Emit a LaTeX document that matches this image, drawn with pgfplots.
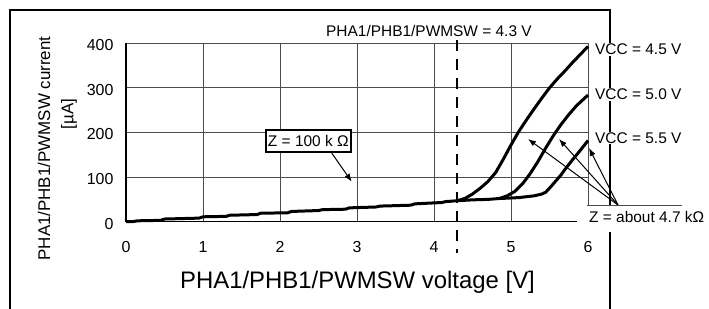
\documentclass[border=0pt]{standalone}
\usepackage{pgfplots}
\pgfplotsset{compat=1.18}
\usepackage{fontspec}
\setmainfont{Liberation Sans}
\usetikzlibrary{arrows.meta}
\newcommand{\fs}{\fontsize{15.5}{18}\selectfont}
\begin{document}
\begin{tikzpicture}
\useasboundingbox (0,0) rectangle (709bp,309bp);
\begin{scope}[shift={(0,309bp)},x=1bp,y=-1bp]
\draw[line width=1.2bp] (10,309) -- (10,10) -- (610,10) -- (610,309);
\end{scope}
\begin{axis}[at={(126bp,87.3bp)}, anchor=south west, scale only axis,
  width=462bp, height=178.4bp, xmin=0, xmax=6, ymin=0, ymax=400,
  xtick={0,1,...,6}, ytick={0,100,...,400},
  grid=major, major grid style={black!70, line width=0.8bp},
  axis x line=bottom, axis y line=left,
  axis line style={-, line width=1.3bp},
  major tick length=0,
  tick label style={font=\fontsize{16}{19}\selectfont},
  /pgf/number format/assume math mode=true,
  xticklabel style={yshift=-16bp}, yticklabel style={xshift=-9bp, yshift=-2bp},
  clip=false]
% common low-current branch
\addplot[black, line width=3bp, line join=round] coordinates {
(0,0) (0.1,0.5) (0.15,2) (0.45,3) (0.5,6) (0.95,8) (1.0,11) (1.3,12) (1.35,14.5)
(1.7,16) (1.75,19) (2.1,20) (2.15,23) (2.5,25) (2.55,27) (2.85,28) (2.9,31)
(3.25,33) (3.3,35) (3.7,37) (3.75,40) (4.1,43) (4.15,45) (4.3,47)};
% VCC = 4.5 V
\addplot[black, line width=3bp, line join=round] coordinates {
(4.3,47) (4.4,52) (4.5,62) (4.6,75) (4.7,90) (4.8,110) (4.9,140) (5.0,172)
(5.1,202) (5.2,228) (5.3,253) (5.4,277) (5.5,300) (5.6,320) (5.7,338)
(5.8,357) (5.9,375) (6.0,393)};
% shared branch for 5.0 / 5.5
\addplot[black, line width=3bp, line join=round] coordinates {
(4.3,47) (4.5,49) (4.7,50) (4.85,52) (5.1,54) (5.3,58) (5.4,62)};
% VCC = 5.0 V
\addplot[black, line width=3bp, line join=round] coordinates {
(4.85,52) (4.95,58) (5.05,68) (5.15,85) (5.25,108) (5.35,135) (5.45,165)
(5.55,193) (5.65,218) (5.75,240) (5.85,260) (5.95,276) (6.0,284)};
% VCC = 5.5 V
\addplot[black, line width=3bp, line join=round] coordinates {
(5.4,62) (5.45,66) (5.5,75) (5.55,85) (5.6,95) (5.65,105) (5.7,117)
(5.8,139) (5.9,160) (6.0,182)};
% 4.3 V marker
\addplot[black, line width=2.6bp, dash pattern=on 11bp off 8bp] coordinates {(4.3,407) (4.3,-71)};
\end{axis}
\begin{scope}[shift={(0,309bp)},x=1bp,y=-1bp]
\node[anchor=base west, font=\fs, inner sep=0] at (326,36.7) {PHA1/PHB1/PWMSW = 4.3 V};
\node[anchor=base west, font=\fs, fill=white, inner sep=1bp] at (594,55) {VCC = 4.5 V};
\node[anchor=base west, font=\fs, fill=white, inner sep=1bp] at (594,100) {VCC = 5.0 V};
\node[anchor=base west, font=\fs, fill=white, inner sep=1bp] at (594,143.3) {VCC = 5.5 V};
\fill[white] (577,206) rectangle (709,232);
\node[anchor=base west, font=\fs, inner sep=0] at (589,223) {Z = about 4.7 kΩ};
\draw[line width=0.9bp, black!70] (587,205) -- (682,205);
\draw[-{Latex[length=8bp,width=6bp]}, line width=1bp] (618,205) -- (528,139);
\draw[-{Latex[length=8bp,width=6bp]}, line width=1bp] (618,205) -- (559,139);
\draw[-{Latex[length=8bp,width=6bp]}, line width=1bp] (618,205) -- (589,148);
\node[draw, line width=1.5bp, minimum width=85bp, minimum height=22bp, inner sep=0, fill=white, font=\fs] at (308.3,141) {Z = 100 k Ω};
\draw[-{Latex[length=8bp,width=6bp]}, line width=1bp] (331.7,153) -- (351.7,181.7);
\node[rotate=90, anchor=base, font=\fontsize{17}{20}\selectfont, inner sep=0] at (50,148.5) {PHA1/PHB1/PWMSW current};
\node[rotate=90, font=\fontsize{17}{20}\selectfont, inner sep=0] at (69,114) {[µA]};
\node[anchor=base, font=\fontsize{24}{28}\selectfont, inner sep=0] at (357.5,288.3) {PHA1/PHB1/PWMSW voltage [V]};
\end{scope}
\end{tikzpicture}
\end{document}
